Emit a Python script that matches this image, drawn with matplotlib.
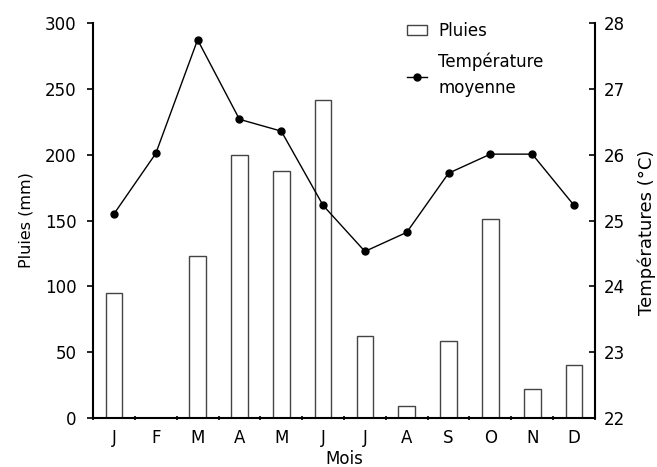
import matplotlib
matplotlib.use("Agg")
import matplotlib.pyplot as plt
from matplotlib.patches import Rectangle
from matplotlib.lines import Line2D

plt.rcParams['font.family'] = ['DejaVu Sans']
plt.rcParams['font.size'] = 12

months = ['J', 'F', 'M', 'A', 'M', 'J', 'J', 'A', 'S', 'O', 'N', 'D']
rain = [95, 0, 123, 200, 188, 242, 62, 9, 58, 151, 22, 40]
temp = [25.1, 26.02, 27.75, 26.54, 26.36, 25.23, 24.53, 24.82, 25.72, 26.01, 26.01, 25.23]

fig = plt.figure(figsize=(6.57, 4.67), dpi=100)
ax = fig.add_axes([0.1416, 0.1056, 0.764, 0.8444])
x = list(range(len(months)))
ax.bar(x, rain, width=0.4, facecolor='white', edgecolor='#444444', linewidth=1.0, zorder=2)
ax.set_xlim(-0.5, 11.5)
ax.set_ylim(0, 300)
ax.set_yticks(range(0, 301, 50))
ax.set_xticks(x)
ax.set_xticklabels(months)
ax.set_xticks([i + 0.5 for i in range(-1, 12)], minor=True)
ax.tick_params(axis='x', which='major', length=0, pad=8)
ax.tick_params(axis='x', which='minor', length=3, direction='inout', width=1.2)
ax.tick_params(axis='y', length=4, width=1.2, direction='out', pad=8)
ax.set_ylabel('Pluies (mm)', labelpad=8, fontsize=11.5)
ax.set_xlabel('Mois', labelpad=2)
for s in ['top', 'right']:
    ax.spines[s].set_visible(False)
for s in ['left', 'bottom']:
    ax.spines[s].set_linewidth(1.5)

ax2 = ax.twinx()
ax2.plot(x, temp, color='black', linewidth=1.0, marker='o', markersize=5, zorder=3)
ax2.set_ylim(22, 28)
ax2.set_yticks(range(22, 29))
ax2.tick_params(axis='y', length=4, width=1.2, direction='in', pad=6)
ax2.set_ylabel('Températures (°C)', fontsize=13)
ax2.yaxis.set_label_coords(1.085, 0.47)
for s in ['top', 'left', 'bottom']:
    ax2.spines[s].set_visible(False)
ax2.spines['right'].set_linewidth(1.5)

h1 = Rectangle((0, 0), 1, 1, facecolor='white', edgecolor='#444444', linewidth=1.0)
h2 = Line2D([], [], color='black', linewidth=1.0, marker='o', markersize=5)
leg = fig.legend([h1, h2], ['Pluies', 'Température\nmoyenne'], loc='upper left',
                 bbox_to_anchor=(0.597, 0.985), frameon=False, handlelength=1.2,
                 handleheight=0.5, handletextpad=0.65, labelspacing=0.75, fontsize=12)
for t in leg.get_texts():
    t.set_linespacing(1.6)

fig.savefig('out.png', dpi=100)
